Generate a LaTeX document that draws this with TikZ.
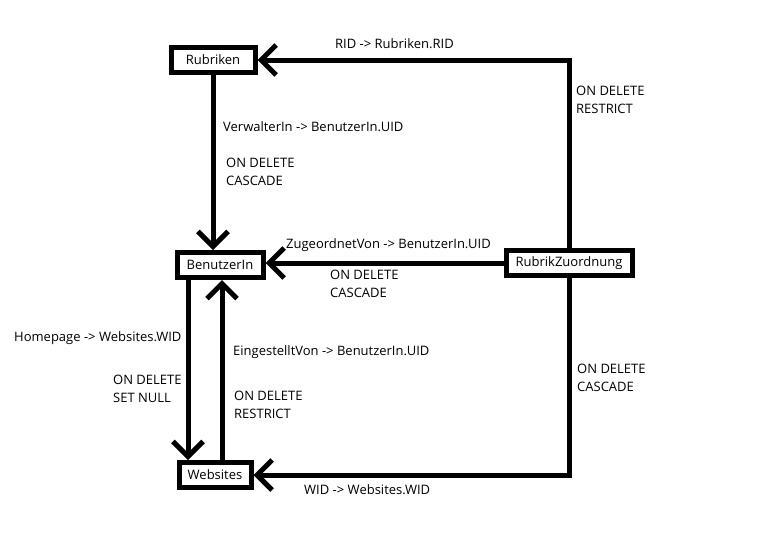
\documentclass[tikz,border=0pt]{standalone}
\usepackage{fontspec}
\setmainfont{Open Sans}
\usetikzlibrary{arrows.meta,positioning,calc}
\tikzset{
  tbl/.style ={draw,line width=5pt,inner sep=0pt,font=\fontsize{13}{14}\selectfont,
               minimum height=25pt},
  lbl/.style ={inner sep=0pt,anchor=west,align=left,font=\fontsize{13}{18}\selectfont},
  fk/.style  ={line width=5pt,-{Straight Barb[length=15pt,width=30pt,line width=5pt]}},
}
\begin{document}
\begin{tikzpicture}[x=1pt,y=-1pt]
\useasboundingbox (0,0) rectangle (758,554);
\node[tbl,minimum width=84pt] (Rub) at (213,60) {Rubriken};
\node[tbl,minimum width=86pt] (Ben) at (220,265) {BenutzerIn};
\node[tbl,minimum width=126pt] (RZ) at (569,263) {RubrikZuordnung};
\node[tbl,minimum width=72pt] (Web) at (215,475) {Websites};
% connectors
\draw[fk] (RZ.north) |- (Rub.east);
\draw[fk] (Rub.south) -- (Rub.south |- Ben.north);
\draw[fk] (RZ.west) -- (RZ.west -| Ben.east);
\draw[fk] (RZ.south) |- (Web.east);
\draw[fk] ([xshift=-32pt]Ben.south) -- ([xshift=-32pt]Ben.south |- Web.north);
\draw[fk] ([xshift=7pt]Web.north) -- ([xshift=7pt]Web.north |- Ben.south);
% labels
\node[lbl] (ridL) at (335,44) {RID -> Rubriken.RID};
\node[lbl] (ridD) at (576,100) {ON DELETE\\RESTRICT};
\node[lbl] (verL) at (223,127) {VerwalterIn -> BenutzerIn.UID};
\node[lbl] (verD) at (226,172) {ON DELETE\\CASCADE};
\node[lbl] (zugL) at (286,245) {ZugeordnetVon -> BenutzerIn.UID};
\node[lbl] (zugD) at (330,284) {ON DELETE\\CASCADE};
\node[lbl] (homL) at (14,338) {Homepage -> Websites.WID};
\node[lbl] (homD) at (113,389) {ON DELETE\\SET NULL};
\node[lbl] (einL) at (233,352) {EingestelltVon -> BenutzerIn.UID};
\node[lbl] (einD) at (234,405) {ON DELETE\\RESTRICT};
\node[lbl] (widD) at (577,378) {ON DELETE\\CASCADE};
\node[lbl] (widL) at (304,490) {WID -> Websites.WID};
\end{tikzpicture}
\end{document}
